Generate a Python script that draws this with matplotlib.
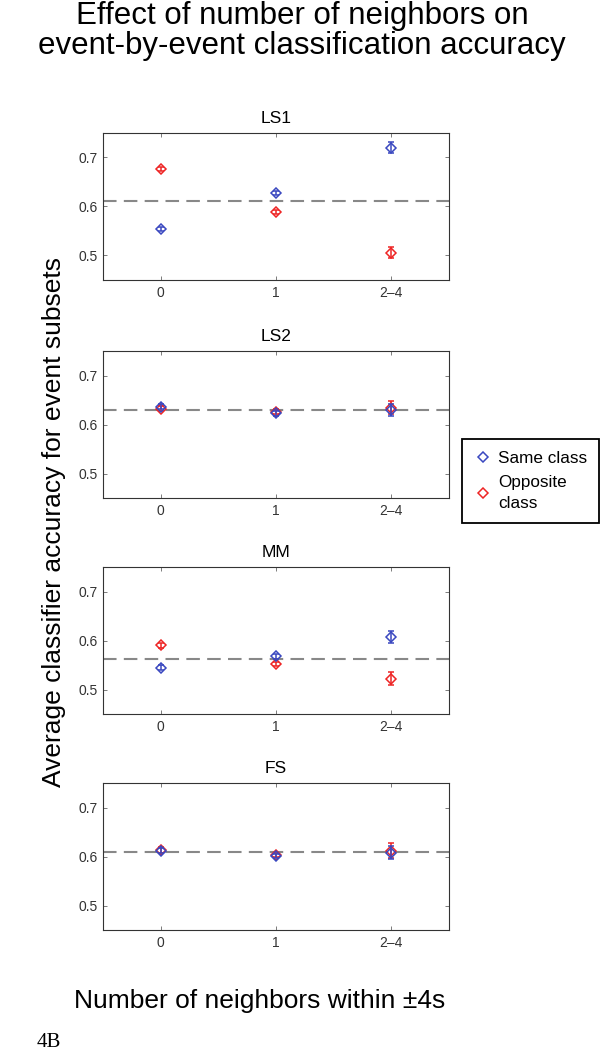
import numpy as np
import matplotlib
matplotlib.use('Agg')
import matplotlib.pyplot as plt
from matplotlib.lines import Line2D

plt.rcParams['font.family'] = ['Liberation Sans', 'DejaVu Sans']

# data
panels = ['LS1', 'LS2', 'MM', 'FS']
groups = ['0', '1', '2\u20134']
same_mean = [[0.555, 0.628, 0.720],
             [0.636, 0.623, 0.630],
             [0.544, 0.568, 0.607],
             [0.612, 0.601, 0.608]]
same_err = [[0.004, 0.004, 0.011],
            [0.005, 0.005, 0.012],
            [0.005, 0.005, 0.013],
            [0.005, 0.005, 0.014]]
opp_mean = [[0.676, 0.588, 0.506],
            [0.632, 0.626, 0.634],
            [0.590, 0.552, 0.522],
            [0.614, 0.603, 0.612]]
opp_err = [[0.004, 0.004, 0.011],
           [0.005, 0.005, 0.013],
           [0.005, 0.005, 0.013],
           [0.006, 0.005, 0.015]]
overall = [0.612, 0.630, 0.563, 0.609]

blue = '#3a48c0'
red = '#ee2424'

fig = plt.figure(figsize=(6.04, 10.5), dpi=100)

# axes rectangles (pixels from top)
tops = [133, 351, 567, 783]
ax_h = 147
x = np.arange(len(groups))

for i, name in enumerate(panels):
    bottom = 1 - (tops[i] + ax_h) / 1050.0
    ax = fig.add_axes([103 / 604.0, bottom, 346 / 604.0, ax_h / 1050.0])
    ax.axhline(overall[i], color='#888888', lw=1.5, ls=(0, (6.5, 3.5)), zorder=1)
    ax.errorbar(x, same_mean[i], yerr=same_err[i], fmt='D', ms=5.5, mfc='none',
                mec=blue, mew=1.1, ecolor=blue, elinewidth=1.1, capsize=2.2, zorder=3)
    ax.errorbar(x, opp_mean[i], yerr=opp_err[i], fmt='D', ms=5.5, mfc='none',
                mec=red, mew=1.1, ecolor=red, elinewidth=1.1, capsize=2.2, zorder=2)
    ax.set_xlim(-0.5, 2.5)
    ax.set_ylim(0.45, 0.75)
    ax.set_xticks(x)
    ax.set_xticklabels(groups)
    ax.set_yticks([0.5, 0.6, 0.7])
    ax.set_yticklabels(['0.5', '0.6', '0.7'])
    ax.tick_params(direction='in', length=3, width=0.6, labelsize=10,
                   top=True, right=True, colors='#666666', labelcolor='#333333', pad=4)
    for s in ax.spines.values():
        s.set_linewidth(0.8)
        s.set_color('#333333')
    ax.set_title(name, fontsize=12.5, pad=7)

fig.text(0.5, 1 - 24 / 1050.0, 'Effect of number of neighbors on',
         ha='center', va='baseline', fontsize=22.5)
fig.text(0.5, 1 - 54 / 1050.0, 'event-by-event classification accuracy',
         ha='center', va='baseline', fontsize=22.5)
fig.text(54 / 604.0, 1 - 522 / 1050.0, 'Average classifier accuracy for event subsets',
         rotation=90, ha='center', va='center', fontsize=19)
fig.text(260 / 604.0, 1 - 1008 / 1050.0, 'Number of neighbors within \u00b14s',
         ha='center', va='baseline', fontsize=19)
fig.text(37 / 604.0, 1 - 1047 / 1050.0, '4B', ha='left', va='baseline', fontsize=15,
         family=['Liberation Serif', 'DejaVu Serif'])

handles = [Line2D([], [], ls='none', marker='D', ms=5, mfc='none', mec=blue, mew=1.1),
           Line2D([], [], ls='none', marker='D', ms=5, mfc='none', mec=red, mew=1.1)]
leg = fig.legend(handles, ['Same class', 'Opposite\nclass'], loc='upper left',
                 bbox_to_anchor=(462 / 604.0, 1 - 439 / 1050.0), fontsize=12.3,
                 fancybox=False, edgecolor='black', handlelength=1.0, handletextpad=0.4,
                 borderpad=0.7, labelspacing=0.55, framealpha=1, borderaxespad=0)
leg.get_frame().set_linewidth(1.3)
leg.get_texts()[1].set_linespacing(1.45)

fig.savefig('out.png', dpi=100)
